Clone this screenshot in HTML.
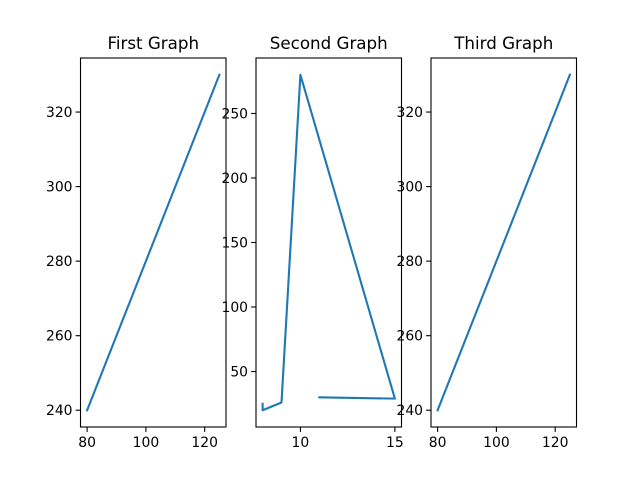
<!DOCTYPE html>
<html><head><meta charset="utf-8"><style>
body{margin:0;background:#fff}
svg text{font-family:"DejaVu Sans","Liberation Sans",sans-serif;font-size:13.9px;fill:#000}
</style></head><body>
<svg id="c" width="640" height="480"></svg>
<script>
const x1 = [80, 125], y1 = [240, 330];
const x2 = [8, 8, 9, 10, 15, 11], y2 = [25, 20, 26, 280, 29, 30];
const x3 = [80, 125], y3 = [240, 330];
const titles = ["First Graph", "Second Graph", "Third Graph"];
const xt1 = [80, 100, 120], yt1 = [240, 260, 280, 300, 320];
const xt2 = [10, 15], yt2 = [50, 100, 150, 200, 250];
const NS = "http://www.w3.org/2000/svg";
const svg = document.getElementById('c');
function el(t, a, p){const e=document.createElementNS(NS,t);for(const k in a)e.setAttribute(k,a[k]);(p||svg).appendChild(e);return e;}
const panels=[{x:x1,y:y1,xt:xt1,yt:yt1,L:80.5},{x:x2,y:y2,xt:xt2,yt:yt2,L:256},{x:x3,y:y3,xt:xt1,yt:yt1,L:431}];
const W=145.5,T=58,B=427;
panels.forEach((p,i)=>{
  const g=el('g',{});
  
  
  const xmn=Math.min(...p.x),xmx=Math.max(...p.x),ymn=Math.min(...p.y),ymx=Math.max(...p.y);
  const dx=(xmx-xmn)*0.05,dy=(ymx-ymn)*0.05;
  const sx=v=>p.L+(v-(xmn-dx))/((xmx+dx)-(xmn-dx))*W;
  const sy=v=>B-(v-(ymn-dy))/((ymx+dy)-(ymn-dy))*(B-T);
  const line=el('polyline',{points:p.x.map((v,j)=>sx(v)+','+sy(p.y[j])).join(' '),fill:'none',stroke:'#1f77b4','stroke-width':2.1,'stroke-linejoin':'round','stroke-linecap':'square'},g);
  
  
  const fr=el('rect',{x:p.L,y:T,width:W,height:B-T,fill:'none',stroke:'#000','stroke-width':1.1},g);
  
  
  p.xt.forEach(v=>{const X=sx(v);el('line',{x1:X,x2:X,y1:B,y2:B+4.9,stroke:'#000','stroke-width':1.1},g);
    const t=el('text',{x:X,y:B+20,'text-anchor':'middle'},g);t.textContent=v;
    
    });
  p.yt.forEach(v=>{const Y=sy(v);el('line',{x1:p.L,x2:p.L-4.9,y1:Y,y2:Y,stroke:'#000','stroke-width':1.1},g);
    const t=el('text',{x:p.L-8,y:Y+5,'text-anchor':'end'},g);t.textContent=v;
    
    });
  const tt=el('text',{x:p.L+W/2,y:T-9,'text-anchor':'middle',style:'font-size:16.7px'},g);tt.textContent=titles[i];
  
  
});
</script>
</body></html>
